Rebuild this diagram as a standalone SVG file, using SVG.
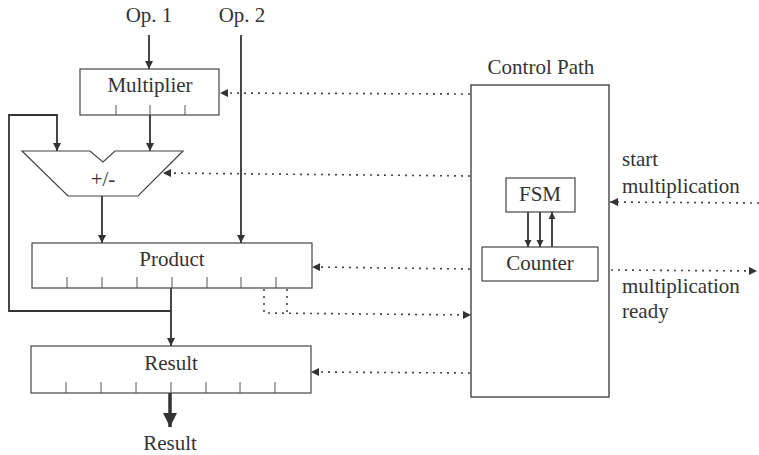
<svg xmlns="http://www.w3.org/2000/svg" width="759" height="455" viewBox="0 0 759 455">
<defs>
<marker id="ah" viewBox="0 0 10 10" refX="10" refY="5" markerWidth="8" markerHeight="8" markerUnits="userSpaceOnUse" orient="auto"><path d="M0,0 L10,5 L0,10 z" fill="#333"/></marker>
<marker id="ahs" viewBox="0 0 10 10" refX="10" refY="5" markerWidth="7" markerHeight="8" markerUnits="userSpaceOnUse" orient="auto"><path d="M0,0 L10,5 L0,10 z" fill="#333"/></marker>
<marker id="big" viewBox="0 0 10 10" refX="10" refY="5" markerWidth="14" markerHeight="16" markerUnits="userSpaceOnUse" orient="auto"><path d="M0,0 L10,5 L0,10 z" fill="#333"/></marker>
</defs>
<style>
text{font-family:"Liberation Serif","Times New Roman",serif;font-size:21px;fill:#333}
.box{fill:#fff;stroke:#444;stroke-width:1.2}
.frame{fill:none;stroke:#444;stroke-width:1.4}
.tick{stroke:#555;stroke-width:1}
.wire{fill:none;stroke:#333;stroke-width:1.8}
.dot{fill:none;stroke:#444;stroke-width:1.6;stroke-dasharray:2 5}
</style>
<rect width="759" height="455" fill="#fff"/>

<g id="control-path">
<rect class="frame" x="471" y="85" width="138" height="312"/>
<text x="541" y="74" text-anchor="middle">Control Path</text>
</g>

<g id="connectors">
<line class="wire" x1="149" y1="35" x2="149" y2="69" marker-end="url(#ah)"/>
<line class="wire" x1="241" y1="35" x2="241" y2="243" marker-end="url(#ah)"/>
<line class="wire" x1="150" y1="115" x2="150" y2="151" marker-end="url(#ah)"/>
<polyline class="wire" points="171,311 9,311 9,115 57,115 57,151" marker-end="url(#ah)"/>
<line class="wire" x1="102" y1="196" x2="102" y2="243" marker-end="url(#ah)"/>
<line class="wire" x1="171" y1="288" x2="171" y2="346" marker-end="url(#ah)"/>
<line x1="170" y1="393" x2="170" y2="427" stroke="#333" stroke-width="3.5" marker-end="url(#big)"/>
<line class="wire" x1="528" y1="212" x2="528" y2="247" marker-end="url(#ahs)"/>
<line class="wire" x1="540" y1="212" x2="540" y2="247" marker-end="url(#ahs)"/>
<line class="wire" x1="552" y1="247" x2="552" y2="212" marker-end="url(#ahs)"/>
<line class="dot" x1="470" y1="94" x2="220" y2="93" marker-end="url(#ah)"/>
<line class="dot" x1="470" y1="176" x2="163" y2="173" marker-end="url(#ah)"/>
<line class="dot" x1="470" y1="269" x2="312" y2="267" marker-end="url(#ah)"/>
<line class="dot" x1="470" y1="373" x2="311" y2="372" marker-end="url(#ah)"/>
<polyline class="dot" points="264,289 264,313 471,315" marker-end="url(#ah)"/>
<line class="dot" x1="287" y1="289" x2="287" y2="313"/>
<line class="dot" x1="759" y1="203" x2="610" y2="202" marker-end="url(#ah)"/>
<line class="dot" x1="611" y1="270" x2="757" y2="271" marker-end="url(#ah)"/>
</g>

<text x="149" y="22" text-anchor="middle">Op. 1</text>
<text x="242" y="22" text-anchor="middle">Op. 2</text>

<g id="multiplier">
<rect class="box" x="80" y="69" width="139" height="46"/>
<line class="tick" x1="116" y1="105" x2="116" y2="115"/>
<line class="tick" x1="150" y1="105" x2="150" y2="115"/>
<line class="tick" x1="185" y1="105" x2="185" y2="115"/>
<text x="150" y="92" text-anchor="middle">Multiplier</text>
</g>

<g id="addsub">
<polygon class="box" points="22,151 90,151 103,162 115,151 183,151 138,196 68,196"/>
<text x="103" y="186" text-anchor="middle">+/-</text>
</g>

<g id="product">
<rect class="box" x="32" y="243" width="280" height="45"/>
<line class="tick" x1="67" y1="277" x2="67" y2="288"/>
<line class="tick" x1="102" y1="277" x2="102" y2="288"/>
<line class="tick" x1="137" y1="277" x2="137" y2="288"/>
<line class="tick" x1="172" y1="277" x2="172" y2="288"/>
<line class="tick" x1="207" y1="277" x2="207" y2="288"/>
<line class="tick" x1="241" y1="277" x2="241" y2="288"/>
<line class="tick" x1="276" y1="277" x2="276" y2="288"/>
<text x="172" y="266" text-anchor="middle">Product</text>
</g>

<g id="result">
<rect class="box" x="31" y="346" width="280" height="47"/>
<line class="tick" x1="66" y1="382" x2="66" y2="393"/>
<line class="tick" x1="101" y1="382" x2="101" y2="393"/>
<line class="tick" x1="136" y1="382" x2="136" y2="393"/>
<line class="tick" x1="171" y1="382" x2="171" y2="393"/>
<line class="tick" x1="206" y1="382" x2="206" y2="393"/>
<line class="tick" x1="240" y1="382" x2="240" y2="393"/>
<line class="tick" x1="275" y1="382" x2="275" y2="393"/>
<text x="171" y="370" text-anchor="middle">Result</text>
</g>
<text x="170" y="450" text-anchor="middle">Result</text>

<g id="fsm">
<rect class="box" x="506" y="178" width="69" height="34"/>
<text x="540" y="201" text-anchor="middle">FSM</text>
</g>
<g id="counter">
<rect class="box" x="482" y="247" width="116" height="34"/>
<text x="540" y="270" text-anchor="middle">Counter</text>
</g>

<text x="622" y="166">start</text>
<text x="622" y="193">multiplication</text>
<text x="622" y="293">multiplication</text>
<text x="622" y="318">ready</text>
</svg>
